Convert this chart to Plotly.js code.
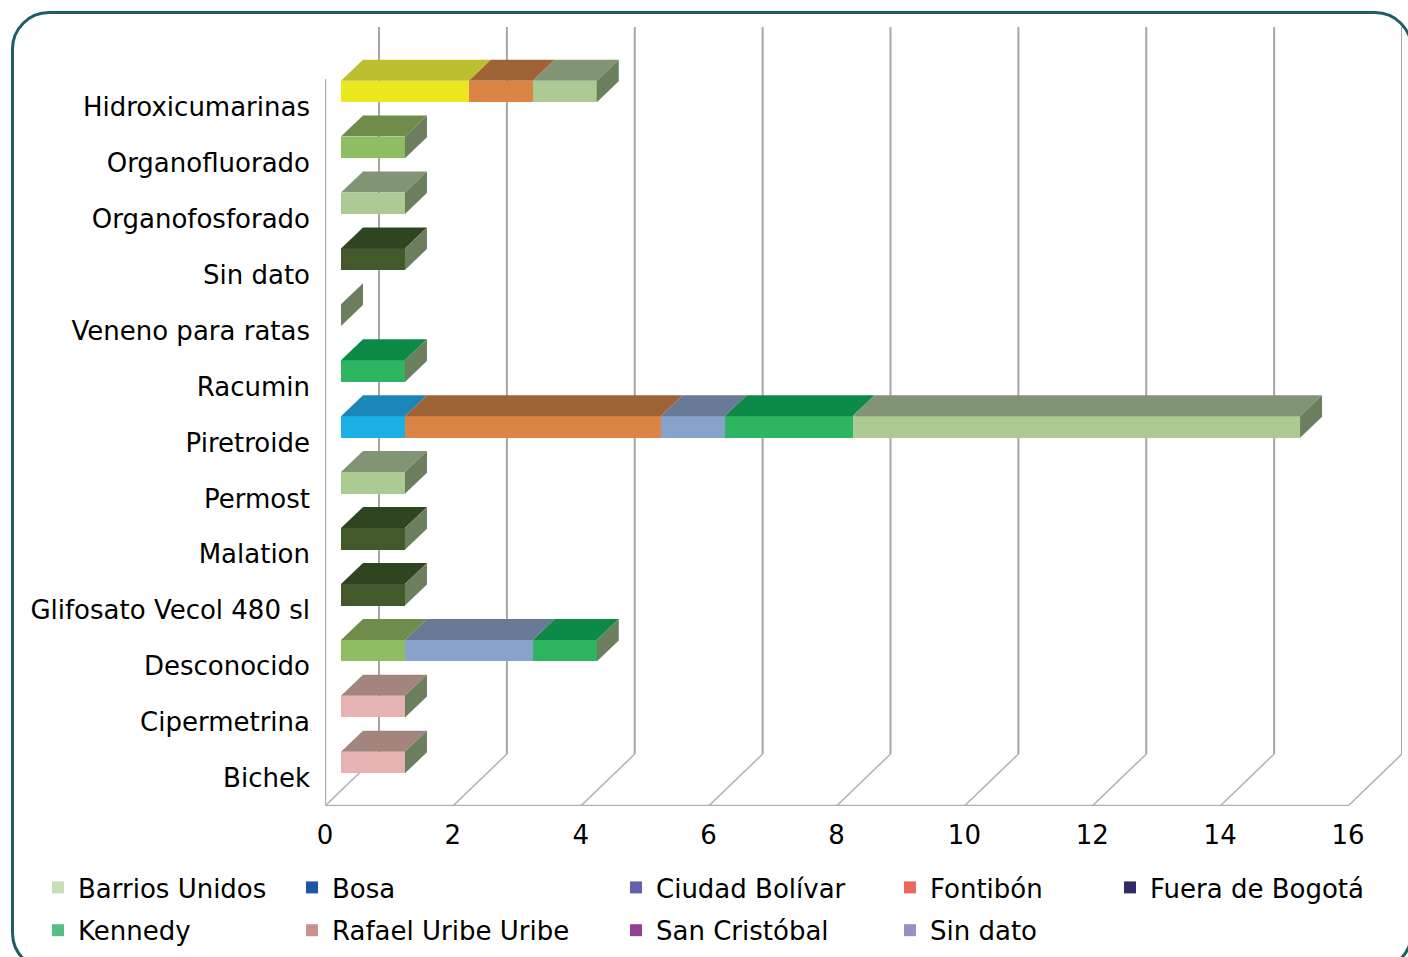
<!DOCTYPE html>
<html><head><meta charset="utf-8">
<script src="https://cdn.plot.ly/plotly-3.0.1.min.js"></script>
<style>
html,body{margin:0;padding:0;background:#fff;width:1408px;height:957px;overflow:hidden;}
#frame{position:absolute;left:11px;top:11px;width:1402px;height:960px;border:3px solid #1f5c66;border-radius:38px;box-sizing:border-box;}
#chart{position:absolute;left:0;top:0;width:1408px;height:957px;}
</style></head><body>
<div id="frame"></div><div id="chart"></div>
<script>
// ---- data (categories listed top to bottom) ----
const categories = ["Hidroxicumarinas","Organofluorado","Organofosforado","Sin dato","Veneno para ratas","Racumin","Piretroide","Permost","Malation","Glifosato Vecol 480 sl","Desconocido","Cipermetrina","Bichek"];
const sanCristobal  = [2,0,0,0,0,0,0,0,0,0,0,0,0];
const ciudadBolivar = [0,1,0,0,0,0,0,0,0,0,1,0,0];
const bosa          = [0,0,0,0,0,0,1,0,0,0,0,0,0];
const fueraDeBogota = [0,0,0,1,0,0,0,0,1,1,0,0,0];
const rafaelUribe   = [0,0,0,0,0,0,0,0,0,0,0,1,1];
const fontibon      = [1,0,0,0,0,0,4,0,0,0,0,0,0];
const sinDato       = [0,0,0,0,0,0,1,0,0,0,2,0,0];
const kennedy       = [0,0,0,0,0,1,2,0,0,0,1,0,0];
const barriosUnidos = [1,0,1,0,0,0,7,1,0,0,0,0,0];
const xTicks = [0,2,4,6,8,10,12,14,16];
const legendNames  = ["Barrios Unidos","Bosa","Ciudad Bolívar","Fontibón","Fuera de Bogotá","Kennedy","Rafael Uribe Uribe","San Cristóbal","Sin dato"];
const legendColors = ["#c5e0b4","#1f55a5","#6460aa","#e8695f","#302a66","#55bf84","#c9938d","#943f96","#9b8fc6"];

// stack order (left to right) with face colours
const stack = [
  {name:"San Cristóbal",  v:sanCristobal,  front:"#ece81f", top:"#bcc030"},
  {name:"Ciudad Bolívar", v:ciudadBolivar, front:"#8fbd63", top:"#6f8c4b"},
  {name:"Bosa",           v:bosa,          front:"#1ab0e6", top:"#1b87b8"},
  {name:"Fuera de Bogotá",v:fueraDeBogota, front:"#44592b", top:"#2f4420"},
  {name:"Rafael Uribe Uribe", v:rafaelUribe, front:"#e6b2b3", top:"#a3847f"},
  {name:"Fontibón",       v:fontibon,      front:"#dc8444", top:"#a06335"},
  {name:"Sin dato",       v:sinDato,       front:"#87a3cb", top:"#687a96"},
  {name:"Kennedy",        v:kennedy,       front:"#2db562", top:"#0e8a47"},
  {name:"Barrios Unidos", v:barriosUnidos, front:"#acca93", top:"#819574"}
];
const sideColor = "#6b7f5f";

// ---- pixel geometry of the 3D frame ----
const W = 1408, H = 957;
const L = 325, frontW = 1023, backDX = 54;
const T = 27, frontH = 727, backDY = 52;
const barDX0 = 16, barDY0 = 15.5, barH = 21.6, depX = 22, depY = 21;
const xMax = xTicks[xTicks.length-1];
const nCat = categories.length;
const k = frontW / xMax;        // px per x unit
const py = frontH / nCat;       // px per category
const idx = categories.map((c,i) => nCat - 1 - i);

const xBack = backDX / k, yBack = backDY / py;
const bw = barH / py, bdx = depX / k, bdy = depY / py;

const traces = stack.map(s => ({
  type:'bar', orientation:'h', x:s.v, y:idx, width:bw,
  xaxis:'x2', yaxis:'y2', marker:{color:s.front, line:{width:0}},
  showlegend:false, hoverinfo:'skip', name:s.name
}));

// legend-only traces
const legendCols = [["Barrios Unidos","Kennedy"],["Bosa","Rafael Uribe Uribe"],["Ciudad Bolívar","San Cristóbal"],["Fontibón","Sin dato"],["Fuera de Bogotá"]];
const colX = [38, 292, 616, 890, 1110];
const legIds = ['legend','legend2','legend3','legend4','legend5'];
legendCols.forEach((col,ci) => col.forEach(nm => {
  const c = legendColors[legendNames.indexOf(nm)];
  traces.push({type:'bar', orientation:'h', x:[null], y:[null], name:nm, legendgroup:nm,
    legend:legIds[ci], marker:{color:c}, hoverinfo:'skip', showlegend:true});
}));

const shapes = [];
// back wall vertical gridlines and floor diagonals
xTicks.forEach(v => {
  shapes.push({type:'line', xref:'x', yref:'y', layer:'below', x0:v+xBack, x1:v+xBack, y0:-0.5+yBack, y1:nCat-0.5+yBack, line:{color:'#a6a6a6', width:2}});
  shapes.push({type:'line', xref:'x', yref:'y', layer:'below', x0:v, x1:v+xBack, y0:-0.5, y1:-0.5+yBack, line:{color:'#b0b0b0', width:1.5}});
});
// front axis lines
shapes.push({type:'line', xref:'x', yref:'y', layer:'below', x0:0, x1:xMax, y0:-0.5, y1:-0.5, line:{color:'#b0b0b0', width:2.5}});
shapes.push({type:'line', xref:'x', yref:'y', layer:'below', x0:0, x1:0, y0:-0.5, y1:nCat-0.5, line:{color:'#b0b0b0', width:2.5}});

// 3D top and side faces computed from the stacked values
idx.forEach((yi, ci) => {
  let cum = 0;
  stack.forEach(s => {
    const val = s.v[ci];
    if (val > 0) {
      const a = cum, b = cum + val, yt = yi + bw/2;
      shapes.push({type:'path', xref:'x2', yref:'y2', layer:'above', fillcolor:s.top, line:{width:0},
        path:`M${a},${yt}L${b},${yt}L${b+bdx},${yt+bdy}L${a+bdx},${yt+bdy}Z`});
    }
    cum += val;
  });
  const yb = yi - bw/2, yt = yi + bw/2;
  shapes.push({type:'path', xref:'x2', yref:'y2', layer:'above', fillcolor:sideColor, line:{width:0},
    path:`M${cum},${yb}L${cum},${yt}L${cum+bdx},${yt+bdy}L${cum+bdx},${yb+bdy}Z`});
});

const plotW = frontW + backDX, plotH = frontH + backDY;
const font = {family:'"DejaVu Sans", sans-serif', size:26, color:'#000'};
const legendBase = {orientation:'v', xanchor:'left', yanchor:'top', bgcolor:'rgba(0,0,0,0)',
  font:font, tracegroupgap:6, itemclick:false, itemdoubleclick:false};
const layout = {
  width:W, height:H, paper_bgcolor:'rgba(0,0,0,0)', plot_bgcolor:'rgba(0,0,0,0)',
  margin:{l:L, r:W-L-plotW, t:T, b:H-T-plotH, pad:0, autoexpand:false},
  font:font, barmode:'stack', bargap:0,
  xaxis:{range:[0, xMax+xBack], tickvals:xTicks, ticktext:xTicks.map(String), showgrid:false, zeroline:false, showline:false, ticks:'', tickfont:font, ticklabelstandoff:11, fixedrange:true, automargin:false},
  yaxis:{range:[-0.5, nCat-0.5+yBack], tickvals:idx, ticktext:categories, showgrid:false, zeroline:false, showline:false, ticks:'', tickfont:font, ticklabelstandoff:14, fixedrange:true, automargin:false},
  xaxis2:{overlaying:'x', anchor:'y2', range:[-barDX0/k, xMax+xBack-barDX0/k], visible:false, fixedrange:true},
  yaxis2:{overlaying:'y', anchor:'x2', range:[-0.5-barDY0/py, nCat-0.5+yBack-barDY0/py], visible:false, fixedrange:true},
  shapes:shapes,
  showlegend:true
};
legIds.forEach((id,ci) => {
  layout[id] = Object.assign({}, legendBase, {x:(colX[ci]-L)/plotW, y:(T+plotH-864)/plotH});
});
Plotly.newPlot('chart', traces, layout, {displayModeBar:false, staticPlot:true});
</script>
</body></html>
